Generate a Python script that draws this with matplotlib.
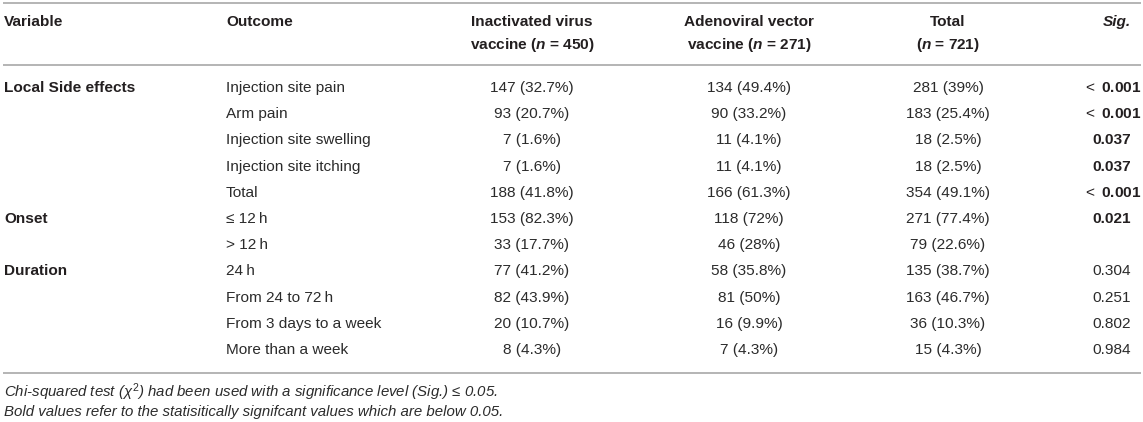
import matplotlib
matplotlib.use("Agg")
from matplotlib import pyplot as plt

plt.rcParams['font.family'] = ['Liberation Sans', 'DejaVu Sans']
plt.rcParams['mathtext.fontset'] = 'custom'
plt.rcParams['mathtext.rm'] = 'Liberation Sans'
plt.rcParams['mathtext.it'] = 'Liberation Sans:italic'
plt.rcParams['mathtext.bf'] = 'Liberation Sans:bold'
plt.rcParams['mathtext.bfit'] = 'Liberation Sans:bold:italic'

variables = ["Local Side effects", "", "", "", "", "Onset", "", "Duration", "", "", ""]
outcomes = ["Injection site pain", "Arm pain", "Injection site swelling",
            "Injection site itching", "Total", "\u2264 12\u2009h", "> 12\u2009h",
            "24\u2009h", "From 24 to 72\u2009h", "From 3 days to a week",
            "More than a week"]
inactivated = ["147 (32.7%)", "93 (20.7%)", "7 (1.6%)", "7 (1.6%)", "188 (41.8%)",
               "153 (82.3%)", "33 (17.7%)", "77 (41.2%)", "82 (43.9%)",
               "20 (10.7%)", "8 (4.3%)"]
adenoviral = ["134 (49.4%)", "90 (33.2%)", "11 (4.1%)", "11 (4.1%)", "166 (61.3%)",
              "118 (72%)", "46 (28%)", "58 (35.8%)", "81 (50%)",
              "16 (9.9%)", "7 (4.3%)"]
total = ["281 (39%)", "183 (25.4%)", "18 (2.5%)", "18 (2.5%)", "354 (49.1%)",
         "271 (77.4%)", "79 (22.6%)", "135 (38.7%)", "163 (46.7%)",
         "36 (10.3%)", "15 (4.3%)"]
sig = ["< 0.001", "< 0.001", "0.037", "0.037", "< 0.001", "0.021", "",
       "0.304", "0.251", "0.802", "0.984"]
sig_bold = [True, True, True, True, True, True, False, False, False, False, False]

headers = [("Variable", ""), ("Outcome", ""),
           ("Inactivated virus", r"vaccine ($\mathbfit{n}$ = 450)"),
           ("Adenoviral vector", r"vaccine ($\mathbfit{n}$ = 271)"),
           ("Total", r"($\mathbfit{n}$ = 721)")]
footnotes = [r"Chi-squared test ($\chi^2$) had been used with a significance level (Sig.) " + "\u2264 0.05.",
             "Bold values refer to the statisitically signifcant values which are below 0.05."]

W, H = 1143, 422
fig = plt.figure(figsize=(W / 100, H / 100), dpi=100)
ax = fig.add_axes([0, 0, 1, 1])
ax.set_xlim(0, W)
ax.set_ylim(H, 0)
ax.axis('off')

fs = 11.1
dark = '#231f20'
body = '#2b2b2b'
line_col = '#b4b4b4'

x_var, x_out = 4, 226
x_cols = [532, 749, 948]
x_sig = 1112

# rules
for y in (3, 65, 373):
    ax.plot([3, W - 2], [y, y], color=line_col, lw=1.4, solid_capstyle='butt')

# header
ax.text(x_var, 22, headers[0][0], fontsize=fs, fontweight='bold', color=dark, va='center')
ax.text(x_out, 22, headers[1][0], fontsize=fs, fontweight='bold', color=dark, va='center')
for xc, (l1, l2) in zip(x_cols, headers[2:]):
    ax.text(xc, 22, l1, fontsize=fs, fontweight='bold', color=dark, ha='center', va='center')
    ax.text(xc, 45, l2, fontsize=fs, fontweight='bold', color=dark, ha='center', va='center')
ax.text(1131, 22, "Sig.", fontsize=fs, fontweight='bold', style='italic', color=dark,
        ha='right', va='center')

# body
y0, dy = 88, 26.2
for i in range(len(outcomes)):
    y = y0 + i * dy
    if variables[i]:
        ax.text(x_var, y, variables[i], fontsize=fs, fontweight='bold', color=dark, va='center')
    ax.text(x_out, y, outcomes[i], fontsize=fs, color=body, va='center')
    for xc, col in zip(x_cols, (inactivated, adenoviral, total)):
        ax.text(xc, y, col[i], fontsize=fs, color=body, ha='center', va='center')
    s = sig[i]
    if s:
        if s.startswith('<'):
            s = r"$<$" + s[1:]
        ax.text(x_sig, y, s, fontsize=fs, color=dark if sig_bold[i] else body,
                ha='center', va='center',
                fontweight='bold' if sig_bold[i] else 'normal')

# footnotes
for j, note in enumerate(footnotes):
    ax.text(x_var, 392 + j * 20, note, fontsize=fs * 0.97, style='italic', color=body, va='center')

fig.savefig('out.png', dpi=100)
